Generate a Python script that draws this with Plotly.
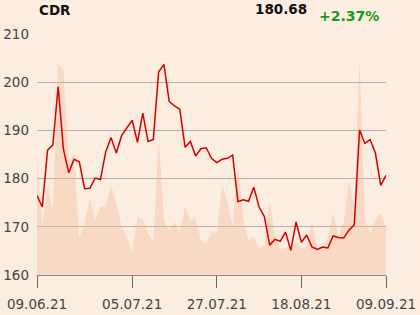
import plotly.graph_objects as go

# ---- data ----
tick_labels = ["09.06.21", "05.07.21", "27.07.21", "18.08.21", "09.09.21"]
tick_index = [0, 18, 34, 50, 66]

price = [176.5, 174.1, 185.9, 187.0, 199.1, 186.1, 181.2, 184.0, 183.5, 177.9,
         178.0, 180.1, 179.8, 185.6, 188.5, 185.3, 188.9, 190.5, 192.1, 187.5,
         193.6, 187.7, 188.1, 202.1, 203.7, 196.0, 195.1, 194.4, 186.5, 187.7,
         184.7, 186.2, 186.4, 184.2, 183.3, 184.0, 184.2, 184.9, 175.2, 175.6,
         175.3, 178.2, 174.1, 172.1, 166.2, 167.4, 167.0, 168.9, 165.1, 171.0,
         166.8, 168.3, 165.8, 165.3, 165.8, 165.6, 168.1, 167.8, 167.7, 169.3,
         170.4, 190.1, 187.3, 188.1, 185.3, 178.6, 180.68]

volume = [118, 50, 90, 63, 211, 205, 115, 120, 38, 50,
          77, 55, 68, 68, 90, 72, 48, 38, 23, 58,
          55, 42, 33, 138, 55, 45, 53, 42, 68, 55,
          56, 35, 31, 43, 42, 90, 73, 48, 112, 55,
          34, 38, 26, 30, 72, 40, 26, 27, 28, 33,
          27, 28, 55, 27, 27, 37, 62, 40, 52, 95,
          68, 218, 55, 42, 55, 62, 47]

symbol = "CDR"
last_price = "180.68"
change = "+2.37%"

idx = list(range(len(price)))

BG = "#fcede1"
AREA = "rgba(240,180,140,0.34)"
RED = "#d40000"
GRID = "#b4b0ac"
FONT = "DejaVu Sans"

fig = go.Figure()
# volume on the main (hidden) axis so it is drawn beneath the price line
fig.add_trace(go.Scatter(
    x=idx, y=volume, yaxis="y", mode="lines", fill="tozeroy",
    line=dict(width=0, color=AREA), fillcolor=AREA, hoverinfo="skip",
    showlegend=False))
fig.add_trace(go.Scatter(
    x=idx, y=price, yaxis="y2", mode="lines", line=dict(color=RED, width=1.5),
    showlegend=False))

fig.update_layout(
    width=420, height=315,
    margin=dict(l=37, r=34, t=34, b=40),
    paper_bgcolor=BG, plot_bgcolor=BG,
    font=dict(family=FONT, size=13.5, color="#444444"),
    xaxis=dict(range=[0, 66], tickmode="array", tickvals=tick_index,
               ticktext=tick_labels, ticks="outside", ticklen=12,
               tickcolor="#666666", tickwidth=1, showgrid=False,
               showline=True, linecolor="#8a8a8a", linewidth=1,
               zeroline=False, automargin=False, ticklabelstandoff=5,
               tickfont=dict(size=13.5, color="#444444")),
    yaxis=dict(range=[0, 241], visible=False, showgrid=False,
               zeroline=False, automargin=False),
    yaxis2=dict(range=[160, 210], tickvals=[160, 170, 180, 190, 200, 210],
                overlaying="y", side="left",
                showgrid=True, gridcolor=GRID, gridwidth=1, zeroline=False,
                showline=False, ticks="", ticklabelstandoff=7, automargin=False,
                tickfont=dict(size=13.5, color="#444444")),
    annotations=[
        dict(text="<b>%s</b>" % symbol, x=0.0, y=1.098, xref="paper", yref="paper",
             xanchor="left", yanchor="middle", showarrow=False,
             font=dict(size=13.5, color="#111111", family=FONT)),
        dict(text="<b>%s</b>" % last_price, x=0.78, y=1.104, xref="paper", yref="paper",
             xanchor="right", yanchor="middle", showarrow=False,
             font=dict(size=13.5, color="#111111", family=FONT)),
        dict(text="<b>%s</b>" % change, x=0.986, y=1.075, xref="paper", yref="paper",
             xanchor="right", yanchor="middle", showarrow=False,
             font=dict(size=14, color="#1a9a1a", family=FONT)),
    ],
)

fig.write_html("out.html")
